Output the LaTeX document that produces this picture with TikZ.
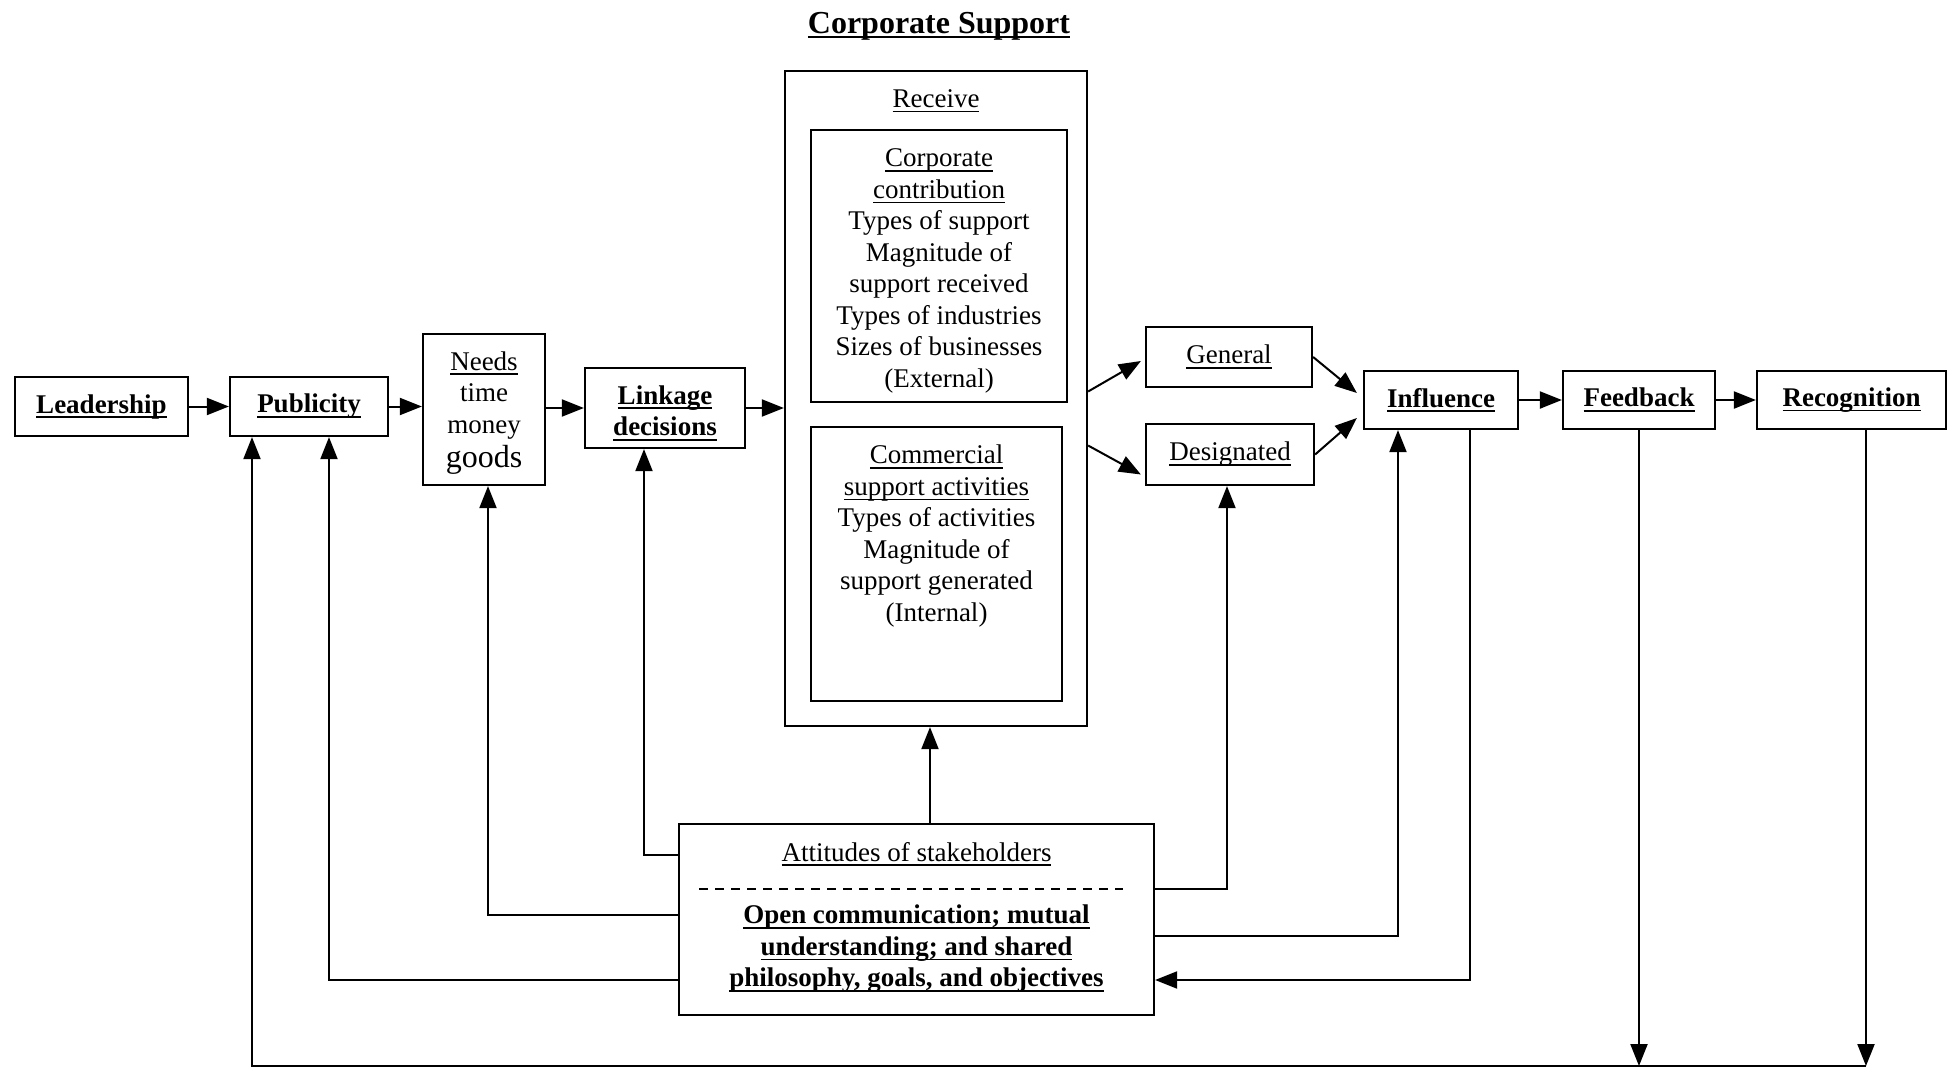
\documentclass[tikz,border=0pt]{standalone}
\usepackage{fontspec}
\setmainfont{Liberation Serif}
\usetikzlibrary{arrows.meta}
\newcommand{\myul}[1]{\leavevmode\setbox0=\hbox{#1}\rlap{\rule[-5pt]{\wd0}{1.8pt}}\box0}
\newcommand{\fsn}{\fontsize{27}{31.5}\selectfont}
\begin{document}
\begin{tikzpicture}[x=1pt,y=-1pt,
  boxn/.style={draw, line width=2.2pt, inner sep=0pt, align=center, font=\fsn},
  boxb/.style={boxn, font=\fsn\bfseries},
  txt/.style={inner sep=0pt, align=center, font=\fsn},
  arr/.style={line width=2pt, -{Triangle[length=22pt,width=17pt]}},
  ln/.style={line width=2pt}]
\useasboundingbox (0,0) rectangle (1957,1069);

% title
\node[txt, font=\fontsize{32}{36}\selectfont\bfseries] (title) at (939,26) {\myul{Corporate Support}};

% main row
\node[boxb, minimum width=173pt, minimum height=59pt] (lead) at (101.5,406.5) {\myul{Leadership}};
\node[boxb, minimum width=158pt, minimum height=59pt] (pub) at (309,406.5) {\myul{Publicity}};
\node[boxn, minimum width=122pt, minimum height=151pt] (needs) at (484,409.5) {};
\node[txt] (needstext) at (484,413) {\myul{Needs}\\time\\money\\[3pt]{\fontsize{32}{34}\selectfont goods}};
\node[boxb, minimum width=160pt, minimum height=80pt] (linkd) at (665,408) {};
\node[txt, font=\fsn\bfseries] (linktext) at (665,413) {\myul{Linkage}\\\myul{decisions}};

% receive
\node[boxn, minimum width=302pt, minimum height=655pt] (recv) at (936,398.5) {};
\node[txt] (recvlbl) at (936,101) {\myul{Receive}};
\node[boxn, minimum width=256pt, minimum height=272pt] (contrib) at (939,266) {};
\node[txt] (contribtext) at (939,271) {\myul{Corporate}\\\myul{contribution}\\Types of support\\Magnitude of\\support received\\Types of industries\\Sizes of businesses\\(External)};
\node[boxn, minimum width=251pt, minimum height=274pt] (commer) at (936.5,564) {};
\node[txt, anchor=north] (commtext) at (936.5,445) {\myul{Commercial}\\\myul{support activities}\\Types of activities\\Magnitude of\\support generated\\(Internal)};

% right part
\node[boxn, minimum width=166pt, minimum height=60pt] (gen) at (1229,357) {\myul{General}};
\node[boxn, minimum width=168pt, minimum height=61pt] (desig) at (1230,454.5) {\myul{Designated}};
\node[boxb, minimum width=154pt, minimum height=58pt] (infl) at (1441,400) {\myul{Influence}};
\node[boxb, minimum width=152pt, minimum height=58pt] (feed) at (1639,400) {\myul{Feedback}};
\node[boxb, minimum width=189pt, minimum height=58pt] (recog) at (1851.5,400) {\myul{Recognition}};

% attitudes
\node[boxn, minimum width=475pt, minimum height=191pt] (att) at (916.5,919.5) {};
\node[txt] (atttitle) at (916.5,854) {\myul{Attitudes of stakeholders}};
\draw[line width=2.5pt, dash pattern=on 9pt off 7pt] (699,889) -- (1123,889);
\node[txt, font=\fsn\bfseries] (attbody) at (916.5,949) {\myul{Open communication; mutual}\\\myul{understanding; and shared}\\\myul{philosophy, goals, and objectives}};

% helper coordinates
\coordinate (pL1) at (644,855);
\coordinate (pL2) at (488,915);
\coordinate (pL3) at (329,980);
\coordinate (pR1) at (1227,889);
\coordinate (pR2) at (1398,936);
\coordinate (pR3) at (1470,980);
\coordinate (pUp) at (930,0);
\coordinate (bR) at (1866,1066);
\coordinate (bL) at (252,1066);

% main flow
\draw[arr] (lead) -- (pub);
\draw[arr] (pub.east) -- (pub.east -| needs.west);
\draw[arr] (linkd -| needs.east) -- (linkd.west);
\draw[arr] (linkd.east) -- (linkd.east -| recv.west);
\draw[arr] ([shift={(0,-7)}]recv.east) -- ([shift={(-4,4)}]gen.west);
\draw[arr] ([shift={(0,47)}]recv.east) -- ([shift={(-4,20)}]desig.west);
\draw[arr] (gen.east) -- ([shift={(-6,-7)}]infl.west);
\draw[arr] (desig.east) -- ([shift={(-6,18)}]infl.west);
\draw[arr] (infl) -- (feed);
\draw[arr] (feed) -- (recog);

% attitudes connectors
\draw[arr] (att.north -| pUp) -- (recv.south -| pUp);
\draw[arr] (att.west |- pL1) -| (linkd.south -| pL1);
\draw[arr] (att.west |- pL2) -| (needs.south -| pL2);
\draw[arr] (att.west |- pL3) -| (pub.south -| pL3);
\draw[arr] (att.east |- pR1) -| (desig.south -| pR1);
\draw[arr] (att.east |- pR2) -| (infl.south -| pR2);
\draw[arr] (infl.south -| pR3) |- (att.east |- pR3);

% bottom loop
\draw[arr] (feed.south) -- (feed.south |- bR);
\draw[arr] (recog.south -| bR) -- (bR);
\draw[arr] (bR) -| (pub.south -| bL);
\end{tikzpicture}
\end{document}
